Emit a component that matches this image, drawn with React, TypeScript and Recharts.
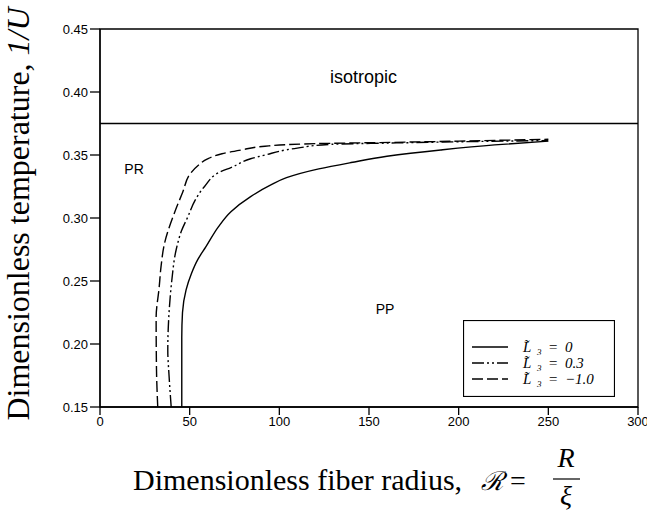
import { LineChart, Line, XAxis, YAxis, ReferenceLine, ReferenceArea, ReferenceDot, Legend, Label } from 'recharts';

const xTicks = [0, 50, 100, 150, 200, 250, 300];
const yTicks = [0.15, 0.2, 0.25, 0.3, 0.35, 0.4, 0.45];
const isotropicT = 0.375;

// L3 = 0 (solid)
const r0 = [45.6, 45.6, 46, 48, 51, 54.5, 59, 66, 73, 84, 95, 104, 122, 140, 160, 190, 220, 250];
const t0 = [0.15, 0.205, 0.225, 0.243, 0.256, 0.267, 0.277, 0.293, 0.305, 0.317, 0.326, 0.332, 0.339, 0.344, 0.349, 0.354, 0.358, 0.361];

// L3 = 0.3 (dash-dot-dot)
const r1 = [39.7, 38.5, 37.8, 38.7, 40, 42.5, 45.5, 49, 53, 58.3, 67.6, 73, 84, 92, 110, 129, 162, 200, 250];
const t1 = [0.15, 0.175, 0.195, 0.229, 0.25, 0.275, 0.29, 0.301, 0.314, 0.325, 0.337, 0.34, 0.347, 0.35, 0.3555, 0.3585, 0.3595, 0.3605, 0.3615];

// L3 = -1.0 (dashed)
const r2 = [32.2, 31.5, 31.3, 33, 34, 36, 41.5, 46, 50.8, 55, 60, 68, 79, 92, 120, 162, 200, 250];
const t2 = [0.15, 0.18, 0.221, 0.245, 0.261, 0.28, 0.304, 0.32, 0.336, 0.342, 0.347, 0.351, 0.354, 0.357, 0.359, 0.36, 0.361, 0.3625];

const zip = (r: number[], t: number[]) => r.map((x, i) => ({ r: x, t: t[i] }));

const series = [
  { key: 'l0', label: '0', data: zip(r0, t0), dash: undefined as string | undefined },
  { key: 'l1', label: '0.3', data: zip(r1, t1), dash: '12 3 2 3 2 3' },
  { key: 'l2', label: '\u22121.0', data: zip(r2, t2), dash: '11 4' },
];

const sans = '"Liberation Sans", Arial, sans-serif';
const serif = '"Liberation Serif", "Times New Roman", serif';

function LegendBox() {
  return (
    <svg width={152} height={77} style={{ display: 'block' }}>
      <rect x={0.5} y={0.5} width={151} height={76} fill="#fff" stroke="#000" strokeWidth={1.2} />
      {series.map((s, i) => {
        const y = 27 + i * 16;
        return (
          <g key={s.key} fontFamily={serif} fontStyle="italic" fill="#000">
            <line x1={9} x2={45} y1={y} y2={y} stroke="#000" strokeWidth={1.5} strokeDasharray={s.dash} />
            <text x={60} y={y + 5} fontSize={15}>L&#x303;</text>
            <text x={74} y={y + 8} fontSize={9}>3</text>
            <text x={85} y={y + 5} fontSize={15}>=</text>
            <text x={102} y={y + 5} fontSize={15}>{s.label}</text>
          </g>
        );
      })}
    </svg>
  );
}

export default function App() {
  return (
    <div style={{ position: 'absolute', left: 0, top: 0, background: '#fff' }}>
      <LineChart width={647} height={527} margin={{ top: 29, right: 9, bottom: 0, left: 0 }}>
        <XAxis
          dataKey="r"
          type="number"
          domain={[0, 300]}
          ticks={xTicks}
          interval={0}
          allowDataOverflow
          stroke="#000"
          strokeWidth={1.3}
          tickSize={8}
          tick={{ fill: '#000', fontSize: 13, fontFamily: sans }}
          height={120}
        >
          <Label
            content={() => (
              <g fontFamily={serif} fill="#000">
                <text x={133} y={490} fontSize={30}>Dimensionless fiber radius,</text>
                <text x={481} y={490} fontSize={26} fontStyle="italic">&#x211B;</text>
                <text x={510} y={490} fontSize={28}>=</text>
                <text x={566} y={467} fontSize={28} fontStyle="italic" textAnchor="middle">R</text>
                <line x1={553} x2={580} y1={479} y2={479} stroke="#000" strokeWidth={1.2} />
                <text x={566} y={505} fontSize={28} fontStyle="italic" textAnchor="middle">&#x3BE;</text>
              </g>
            )}
          />
        </XAxis>
        <YAxis
          dataKey="t"
          type="number"
          domain={[0.15, 0.45]}
          ticks={yTicks}
          interval={0}
          allowDataOverflow
          stroke="#000"
          strokeWidth={1.3}
          tickSize={10}
          tickFormatter={(v: number) => v.toFixed(2)}
          tick={{ fill: '#000', fontSize: 13, fontFamily: sans }}
          width={100}
        >
          <Label
            content={() => (
              <text
                transform="translate(29,214) rotate(-90)"
                textAnchor="middle"
                fontFamily={serif}
                fontSize={32}
                fill="#000"
              >
                Dimensionless temperature, <tspan fontStyle="italic">1/U</tspan>
              </text>
            )}
          />
        </YAxis>
        <ReferenceArea x1={0} x2={300} y1={0.15} y2={0.45} fill="none" stroke="#000" strokeWidth={1.3} />
        <ReferenceLine y={isotropicT} stroke="#000" strokeWidth={1.6} />
        <ReferenceDot x={147} y={0.412} r={0} fill="none" stroke="none"
          label={{ value: 'isotropic', position: 'center', fill: '#000', fontSize: 18, fontFamily: sans }} />
        <ReferenceDot x={19} y={0.339} r={0} fill="none" stroke="none"
          label={{ value: 'PR', position: 'center', fill: '#000', fontSize: 14, fontFamily: sans }} />
        <ReferenceDot x={159} y={0.228} r={0} fill="none" stroke="none"
          label={{ value: 'PP', position: 'center', fill: '#000', fontSize: 14, fontFamily: sans }} />
        {series.map((s) => (
          <Line
            key={s.key}
            data={s.data}
            dataKey="t"
            type="monotoneY"
            stroke="#000"
            strokeWidth={1.4}
            strokeDasharray={s.dash}
            dot={false}
            activeDot={false}
            isAnimationActive={false}
          />
        ))}
        <Legend
          layout="horizontal"
          verticalAlign="middle"
          align="center"
          wrapperStyle={{ left: 463, top: 320, width: 152, height: 77 }}
          content={() => <LegendBox />}
        />
      </LineChart>
    </div>
  );
}
